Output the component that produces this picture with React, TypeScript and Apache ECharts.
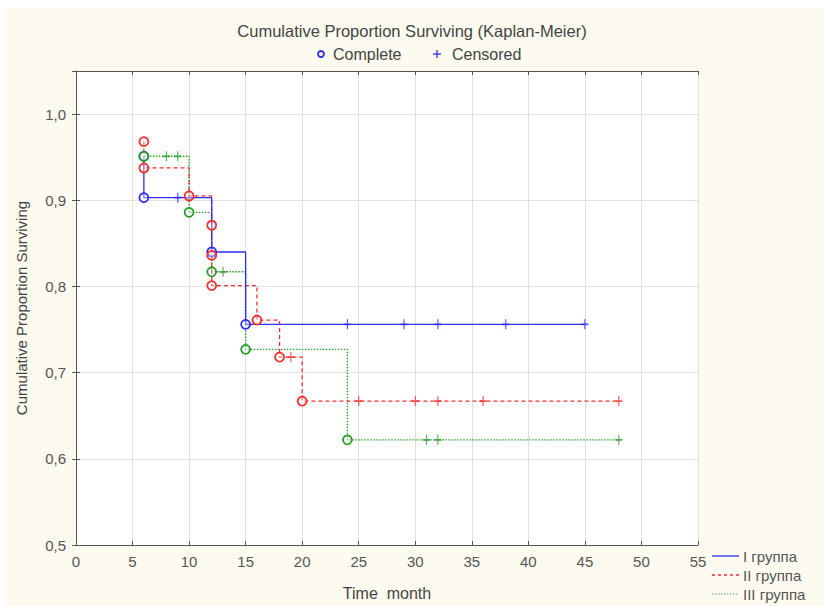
import React, { useEffect, useRef } from "react";
import * as echarts from "echarts";

// ---- Data ----
const xTicks = { min: 0, max: 55, step: 5 };
const yTicks = { min: 0.5, max: 1.05, step: 0.1 };

const groupNames = ["I группа", "II группа", "III группа"];

// step curves (Kaplan-Meier), [time, proportion]
const curveI = [[6, 0.951], [6, 0.903], [12, 0.840], [15, 0.756], [45, 0.756]];
const curveII = [[6, 0.968], [6, 0.9375], [10, 0.905], [12, 0.871], [12, 0.836], [12, 0.801], [16, 0.761], [18, 0.718], [20, 0.667], [48, 0.667]];
const curveIII = [[6, 0.951], [10, 0.886], [12, 0.817], [15, 0.727], [24, 0.622], [48, 0.622]];

// complete (event) points
const completeI = [[6, 0.951], [6, 0.903], [12, 0.840], [15, 0.756]];
const completeII = [[6, 0.968], [6, 0.9375], [10, 0.905], [12, 0.871], [12, 0.836], [12, 0.801], [16, 0.761], [18, 0.718], [20, 0.667]];
const completeIII = [[6, 0.951], [10, 0.886], [12, 0.817], [15, 0.727], [24, 0.622]];

// censored points
const censoredI = [[9, 0.903], [24, 0.756], [29, 0.756], [32, 0.756], [38, 0.756], [45, 0.756]];
const censoredII = [[19, 0.718], [25, 0.667], [30, 0.667], [32, 0.667], [36, 0.667], [48, 0.667]];
const censoredIII = [[8, 0.951], [9, 0.951], [13, 0.817], [31, 0.622], [32, 0.622], [48, 0.622]];

const colors = ["#2e2ef2", "#f03030", "#2a9a2a"];
const lineTypes: any[] = ["solid", [4, 3], [1.5, 1.5]];

const FONT = "'Liberation Sans', Arial, sans-serif";
const PLUS = "path://M0,-5L0,5M-5,0L5,0";

export default function App() {
  const ref = useRef<HTMLDivElement>(null);
  useEffect(() => {
    if (!ref.current) return;
    const chart = echarts.init(ref.current, null, { renderer: "svg" });
    const curves = [curveI, curveII, curveIII];
    const completes = [completeI, completeII, completeIII];
    const censored = [censoredI, censoredII, censoredIII];
    const series: any[] = [];
    curves.forEach((c, i) => {
      series.push({
        type: "line",
        name: groupNames[i],
        data: c,
        step: "end",
        showSymbol: false,
        symbol: "none",
        z: 3 - i,
        lineStyle: { color: colors[i], width: i === 2 ? 1.4 : 1.3, type: lineTypes[i] },
      });
    });
    completes.forEach((c, i) => {
      series.push({
        type: "scatter",
        data: c,
        symbol: "circle",
        symbolSize: 9,
        z: 5,
        itemStyle: { color: "rgba(255,255,255,0.35)", borderColor: colors[i], borderWidth: 1.8, opacity: 1 },
      });
    });
    censored.forEach((c, i) => {
      series.push({
        type: "scatter",
        data: c,
        symbol: PLUS,
        symbolSize: [7, 10],
        z: 5,
        itemStyle: { color: "rgba(0,0,0,0)", borderColor: colors[i], borderWidth: 1.4 },
      });
    });

    const legendY = [556, 575, 594];
    const legendGraphics: any[] = [];
    groupNames.forEach((n, i) => {
      legendGraphics.push({
        type: "line",
        shape: { x1: 712, y1: legendY[i], x2: 739, y2: legendY[i] },
        style: {
          stroke: i === 2 ? "#8fc48f" : colors[i],
          lineWidth: 1.3,
          lineDash: i === 0 ? null : i === 1 ? [3, 3] : [1.5, 1.5],
        },
      });
      legendGraphics.push({
        type: "text",
        x: 743,
        y: legendY[i],
        style: { text: n, fill: "#555", font: `15px ${FONT}`, textVerticalAlign: "middle" },
      });
    });

    chart.setOption({
      animation: false,
      backgroundColor: "transparent",
      textStyle: { fontFamily: FONT },
      grid: { left: 76, top: 71, width: 622, height: 476, show: true, backgroundColor: "#ffffff", borderWidth: 0 },
      graphic: [
        { type: "rect", z: -10, shape: { x: 5, y: 8, width: 819, height: 598 }, style: { fill: "#fdfaf0" } },
        {
          type: "text", x: 412, y: 31,
          style: { text: "Cumulative Proportion Surviving (Kaplan-Meier)", fill: "#444", font: `16.5px ${FONT}`, textAlign: "center", textVerticalAlign: "middle" },
        },
        { type: "circle", shape: { cx: 321, cy: 54, r: 3 }, style: { fill: "none", stroke: "#2e2ef2", lineWidth: 1.8 } },
        { type: "text", x: 333, y: 54, style: { text: "Complete", fill: "#444", font: `16px ${FONT}`, textVerticalAlign: "middle" } },
        { type: "line", shape: { x1: 433, y1: 54, x2: 441, y2: 54 }, style: { stroke: "#2e2ef2", lineWidth: 1.3 } },
        { type: "line", shape: { x1: 437, y1: 50, x2: 437, y2: 58 }, style: { stroke: "#2e2ef2", lineWidth: 1.3 } },
        { type: "text", x: 452, y: 54, style: { text: "Censored", fill: "#444", font: `16px ${FONT}`, textVerticalAlign: "middle" } },
        ...legendGraphics,
      ],
      xAxis: [
        {
          type: "value", min: xTicks.min, max: xTicks.max, interval: xTicks.step, position: "bottom",
          name: "Time  month", nameLocation: "middle", nameGap: 40,
          nameTextStyle: { color: "#444", fontSize: 16, fontFamily: FONT },
          axisLine: { show: true, lineStyle: { color: "#555", width: 1 } },
          axisTick: { show: true, inside: true, length: 4, lineStyle: { color: "#555" } },
          axisLabel: { color: "#555", fontSize: 15, margin: 9, fontFamily: FONT },
          splitLine: { show: true, lineStyle: { color: "#e0e0e0", width: 1 } },
        },
        {
          type: "value", min: xTicks.min, max: xTicks.max, interval: xTicks.step, position: "top",
          axisLine: { show: true, lineStyle: { color: "#555", width: 1 } },
          axisTick: { show: true, inside: true, length: 4, lineStyle: { color: "#555" } },
          axisLabel: { show: false },
          splitLine: { show: false },
        },
      ],
      yAxis: [
        {
          type: "value", min: yTicks.min, max: yTicks.max, interval: yTicks.step, position: "left",
          name: "Cumulative Proportion Surviving", nameLocation: "middle", nameGap: 47,
          nameTextStyle: { color: "#444", fontSize: 15, fontFamily: FONT },
          axisLine: { show: true, lineStyle: { color: "#555", width: 1 } },
          axisTick: { show: true, inside: true, length: 4, lineStyle: { color: "#555" } },
          axisLabel: {
            color: "#555", fontSize: 15, margin: 10, fontFamily: FONT, showMaxLabel: false,
            formatter: (v: number) => (Math.abs(v * 10 - Math.round(v * 10)) < 1e-6 ? v.toFixed(1).replace(".", ",") : ""),
          },
          splitLine: { show: true, lineStyle: { color: "#e0e0e0", width: 1 } },
        },
        {
          type: "value", min: yTicks.min, max: yTicks.max, interval: yTicks.step, position: "right",
          axisLine: { show: true, lineStyle: { color: "#555", width: 1 } },
          axisTick: { show: true, inside: true, length: 4, lineStyle: { color: "#555" } },
          axisLabel: { show: false },
          splitLine: { show: false },
        },
      ],
      series,
    });
    return () => chart.dispose();
  }, []);
  return (
    <div style={{ position: "fixed", left: 0, top: 0, width: 824, height: 606, background: "#ffffff" }}>
      <div ref={ref} style={{ width: 824, height: 606 }} />
    </div>
  );
}
